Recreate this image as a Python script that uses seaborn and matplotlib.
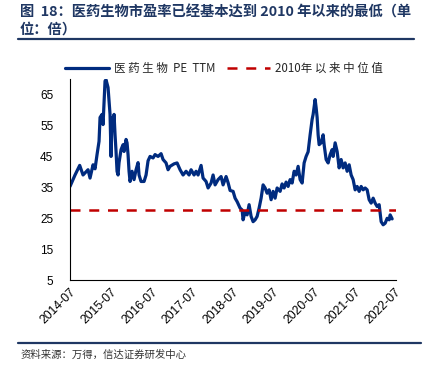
import pandas as pd
import numpy as np
import seaborn as sns
import matplotlib.pyplot as plt
import matplotlib.dates as mdates
from matplotlib.lines import Line2D

# PE TTM readings taken off the reference chart
dates = [
    "2014-07-01", "2014-08-15", "2014-09-26", "2014-10-26", "2014-12-10", "2014-12-28",
    "2015-01-24", "2015-02-11", "2015-03-01", "2015-03-19", "2015-03-28", "2015-04-15",
    "2015-04-24", "2015-05-12", "2015-05-21", "2015-06-08", "2015-06-17", "2015-06-26",
    "2015-07-05", "2015-07-14", "2015-07-23", "2015-08-01", "2015-08-10", "2015-08-19",
    "2015-08-28", "2015-09-06", "2015-09-15", "2015-10-03", "2015-10-21", "2015-10-30",
    "2015-11-17", "2015-11-26", "2015-12-05", "2015-12-14", "2015-12-23", "2016-01-10",
    "2016-01-28", "2016-02-15", "2016-03-04", "2016-03-13", "2016-03-31", "2016-04-27",
    "2016-05-15", "2016-06-02", "2016-06-20", "2016-07-17", "2016-08-04", "2016-08-31",
    "2016-09-27", "2016-10-15", "2016-11-11", "2016-11-29", "2016-12-17", "2017-01-22",
    "2017-02-18", "2017-03-17", "2017-04-13", "2017-05-10", "2017-06-06", "2017-06-24",
    "2017-07-21", "2017-08-08", "2017-08-26", "2017-09-22", "2017-10-10", "2017-11-06",
    "2017-11-24", "2017-12-21", "2018-01-08", "2018-01-26", "2018-02-22", "2018-03-21",
    "2018-04-08", "2018-05-05", "2018-05-23", "2018-06-10", "2018-07-07", "2018-07-25",
    "2018-08-12", "2018-09-08", "2018-09-26", "2018-10-05", "2018-10-23", "2018-11-10",
    "2018-11-28", "2018-12-16", "2019-01-03", "2019-01-21", "2019-02-08", "2019-02-26",
    "2019-03-16", "2019-04-03", "2019-04-21", "2019-05-09", "2019-05-27", "2019-06-14",
    "2019-07-02", "2019-07-20", "2019-08-07", "2019-09-03", "2019-09-21", "2019-10-09",
    "2019-10-27", "2019-11-14", "2019-12-02", "2019-12-20", "2020-01-07", "2020-01-25",
    "2020-02-12", "2020-03-01", "2020-03-19", "2020-04-06", "2020-04-24", "2020-05-12",
    "2020-05-30", "2020-06-17", "2020-06-26", "2020-07-14", "2020-07-23", "2020-08-01",
    "2020-08-10", "2020-08-19", "2020-09-06", "2020-09-24", "2020-10-03", "2020-10-21",
    "2020-11-08", "2020-11-26", "2020-12-14", "2020-12-23", "2021-01-10", "2021-01-28",
    "2021-02-15", "2021-03-05", "2021-03-23", "2021-04-10", "2021-04-28", "2021-05-16",
    "2021-06-03", "2021-06-21", "2021-07-09", "2021-07-27", "2021-08-14", "2021-09-01",
    "2021-09-19", "2021-10-07", "2021-10-25", "2021-11-12", "2021-11-30", "2021-12-18",
    "2022-01-05", "2022-01-23", "2022-02-10", "2022-02-28", "2022-03-18", "2022-04-05",
    "2022-04-23", "2022-05-11", "2022-05-20", "2022-06-07",
]
pe_ttm = [
    35.3, 39.0, 42.1, 39.0, 40.7, 38.0,
    42.3, 41.0, 45.6, 49.9, 57.6, 58.6,
    55.3, 69.4, 69.8, 67.3, 62.9, 58.6,
    45.0, 57.6, 55.3, 58.6, 52.0, 46.6,
    40.2, 39.0, 43.0, 47.2, 48.8, 46.6,
    50.5, 49.4, 45.6, 40.2, 36.9, 40.2,
    37.5, 40.7, 43.0, 39.0, 36.9, 36.9,
    39.0, 43.6, 45.0, 44.5, 45.6, 45.0,
    45.9, 44.0, 42.9, 40.7, 41.8, 42.6,
    42.9, 40.7, 39.0, 40.2, 39.0, 40.7,
    39.0, 40.2, 39.0, 42.1, 38.0, 36.9,
    34.8, 36.4, 39.0, 35.8, 37.5, 38.5,
    35.8, 38.5, 36.5, 34.0, 33.7, 31.5,
    30.4, 28.3, 27.7, 24.5, 27.2, 26.1,
    29.4, 25.6, 23.9, 24.5, 25.6, 28.3,
    31.5, 35.8, 34.8, 33.1, 34.2, 31.0,
    33.7, 31.5, 34.8, 33.7, 36.1, 34.8,
    36.7, 35.3, 37.5, 36.4, 40.2, 39.0,
    41.8, 37.5, 36.4, 42.9, 45.0, 46.5,
    52.0, 57.0, 58.6, 63.4, 60.8, 57.6,
    52.0, 48.8, 49.4, 52.0, 48.8, 44.0,
    42.9, 45.6, 47.2, 45.0, 49.4, 46.6,
    41.3, 44.0, 41.3, 42.9, 40.2, 42.3,
    39.0, 37.5, 34.2, 35.3, 33.7, 35.3,
    34.2, 34.8, 34.2, 31.0, 29.9, 31.5,
    29.9, 28.8, 29.4, 23.9, 22.9, 23.4,
    25.0, 24.5, 26.1, 24.8,
]
median_2010 = 27.6

y_ticks = [5, 15, 25, 35, 45, 55, 65]
x_ticks = ["2014-07", "2015-07", "2016-07", "2017-07", "2018-07",
           "2019-07", "2020-07", "2021-07", "2022-07"]

title_1 = "图  18：医药生物市盈率已经基本达到 2010 年以来的最低（单"
title_2 = "位：倍）"
source = "资料来源：万得，信达证券研发中心"
label_pe = "医 药 生 物  PE  TTM"
label_med = "2010年 以 来 中 位 值"

sns.set_style("white")
plt.rcParams['font.family'] = ['Noto Sans CJK SC', 'DejaVu Sans']
plt.rcParams['axes.unicode_minus'] = False

df = pd.DataFrame({"date": pd.to_datetime(dates), "pe": pe_ttm})

navy = "#002B7F"
red = "#C00000"
title_c = "#1F3763"

fig = plt.figure(figsize=(4.27, 3.75), dpi=100)
ax = fig.add_axes([0.164, 0.253, 0.763, 0.536])

sns.lineplot(data=df, x="date", y="pe", ax=ax, color=navy, linewidth=2.3)
ax.axhline(median_2010, color=red, linewidth=1.8, linestyle=(0, (4, 3.5)))

ax.set_ylim(5, 70)
ax.set_yticks(y_ticks)
ax.set_xlim(pd.Timestamp("2014-07-01"), pd.Timestamp("2022-07-10"))
ax.set_xticks(pd.to_datetime(x_ticks))
ax.xaxis.set_major_formatter(mdates.DateFormatter("%Y-%m"))
ax.set_xlabel("")
ax.set_ylabel("")

for s in ["top", "right"]:
    ax.spines[s].set_visible(False)
for s in ["left", "bottom"]:
    ax.spines[s].set_color("black")
    ax.spines[s].set_linewidth(0.8)

ax.tick_params(axis="y", direction="out", length=3, width=0.8, labelsize=8.5,
               colors="black", pad=9)
ax.tick_params(axis="x", direction="in", length=3, width=0.8, labelsize=8.8,
               colors="black", pad=4)
for lbl in ax.get_yticklabels():
    lbl.set_family(["Liberation Sans", "DejaVu Sans"])
for lbl in ax.get_xticklabels():
    lbl.set_rotation(45)
    lbl.set_ha("right")
    lbl.set_rotation_mode("anchor")
    lbl.set_family(["Liberation Sans", "DejaVu Sans"])

handles = [Line2D([], [], color=navy, linewidth=2.3),
           Line2D([], [], color=red, linewidth=1.8, linestyle=(0, (4, 3.5)))]
fig.legend(handles, [label_pe, label_med], loc="center", ncol=2,
           bbox_to_anchor=(0.525, 0.818), frameon=False, fontsize=8.3,
           handlelength=3.8, handletextpad=0.4, columnspacing=1.0)

fig.text(0.047, 0.968, title_1, fontsize=10.3, fontweight="bold", color=title_c,
         va="center", ha="left")
fig.text(0.047, 0.92, title_2, fontsize=10.3, fontweight="bold", color=title_c,
         va="center", ha="left")
fig.add_artist(Line2D([0.042, 0.97], [0.896, 0.896], color=title_c, linewidth=1.6))
fig.add_artist(Line2D([0.042, 0.985], [0.086, 0.086], color=title_c, linewidth=1.6))
fig.text(0.047, 0.053, source, fontsize=7.5, color="#333333", va="center", ha="left",
         style="italic")

fig.savefig("out.png", dpi=100)
